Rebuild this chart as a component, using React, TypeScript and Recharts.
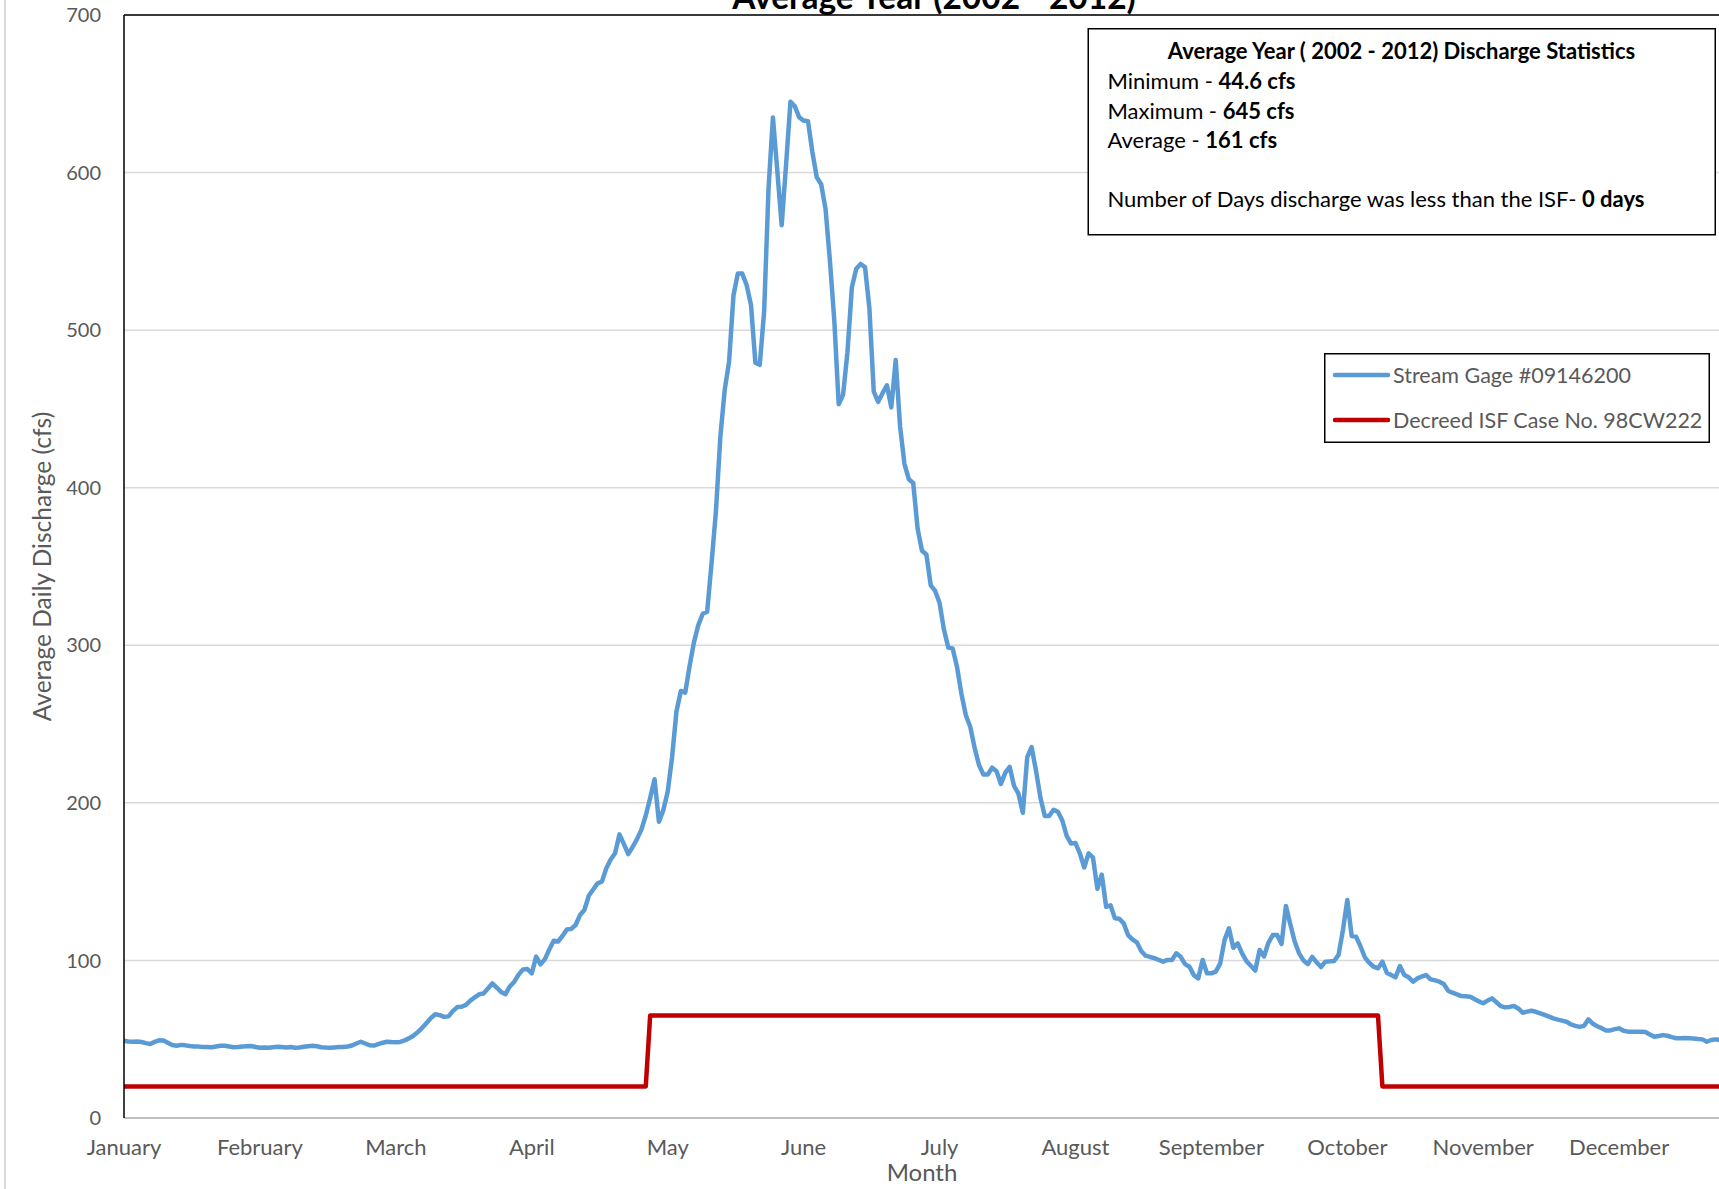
import { LineChart, Line, XAxis, YAxis, CartesianGrid, ReferenceLine, Legend } from "recharts";

const months = [
  "January", "February", "March", "April", "May", "June",
  "July", "August", "September", "October", "November", "December",
];
// Excel labels every 31st day, so the month labels sit at equal spacing
const monthTicks = [0, 31, 62, 93, 124, 155, 186, 217, 248, 279, 310, 341];
const yTicks = [0, 100, 200, 300, 400, 500, 600, 700];

const seriesNames = ["Stream Gage #09146200", "Decreed ISF Case No. 98CW222"];

// average daily discharge (cfs), day 0 = Jan 1
const gageFlow = [
  49, 48.6, 48.4, 48.5, 48.2, 47.5, 47, 48.3, 49.3, 49.2,
  47.8, 46.3, 45.9, 46.4, 46.1, 45.7, 45.4, 45.3, 45.1, 45,
  44.9, 45.4, 45.8, 45.9, 45.4, 44.9, 45.1, 45.4, 45.6, 45.7,
  45.1, 44.6, 44.7, 44.6, 44.9, 45.2, 45, 44.8, 45.1, 44.6,
  44.8, 45.2, 45.5, 45.8, 45.5, 44.9, 44.7, 44.6, 44.8, 45,
  45.1, 45.4, 46, 47.3, 48.4, 47.3, 46.2, 46, 46.9, 47.8,
  48.4, 48.2, 48.1, 48.3, 49.3, 50.5, 52.2, 54.5, 57.2, 60.3,
  63.5, 65.8, 65.3, 64.2, 64.5, 67.8, 70.4, 70.6, 71.8, 74.5,
  76.6, 78.5, 79, 82.2, 85.4, 82.8, 80, 78.6, 83.5, 86.5,
  91, 94.3, 94.5, 91.8, 102.4, 97.5, 100.8, 107, 112.5, 112,
  115.5, 119.7, 120, 122.5, 128.8, 132, 141, 145, 148.9, 150,
  158.5, 164, 168, 180, 174, 167.5, 172, 177, 183, 192,
  203, 215, 188, 195.4, 207, 229, 258, 271, 270, 287,
  302, 313, 320, 321.3, 352, 385, 432, 462, 480, 522,
  536, 536, 528.6, 516, 479.3, 478, 512, 590, 635, 601,
  566.6, 605, 645, 642, 635, 633, 632.6, 613, 597, 592.6,
  577, 544, 506, 453, 459, 486, 527, 539, 542, 540,
  514, 461, 454.5, 460, 465, 451, 481, 439, 415, 405.4,
  403, 374, 360, 357.6, 338, 334.5, 327, 310, 298.5, 298,
  286, 269, 255.6, 248.3, 235, 224, 218, 218, 222.3, 220,
  212, 219.2, 222.8, 210.7, 205.8, 193.7, 229, 235.4, 220.4, 203.4,
  191.7, 191.7, 195.6, 194.3, 188.8, 179, 174.2, 174.5, 168, 159,
  168, 165.2, 145.5, 154.5, 134, 135, 126.7, 126.5, 123.5, 116.1,
  113.4, 111.5, 106, 103, 102.2, 101.5, 100.3, 99.2, 100.3, 100.3,
  104.5, 102.3, 97.7, 96, 90.7, 88.6, 100.3, 91.8, 91.8, 92.9,
  98, 112.9, 120.4, 108, 110.8, 104.5, 99.5, 96.6, 93.6, 106.6,
  102.5, 111.2, 116.1, 116.1, 110.4, 134.5, 123, 112, 104.5, 100,
  97.7, 102.3, 98.8, 95.8, 99.2, 99.4, 99.6, 103.5, 119.3, 138.3,
  115.5, 115, 109, 102, 98.5, 96, 95, 99.2, 92.2, 90.7,
  89.3, 96.4, 90.7, 89.3, 86.5, 88.6, 89.8, 90.7, 88, 87.3,
  86.5, 85, 80.8, 79.5, 78.5, 77.4, 77.2, 77, 75.5, 74,
  72.8, 74.5, 75.9, 73.5, 71, 70.2, 70.5, 71.1, 69.5, 66.8,
  67.5, 68.1, 67.4, 66.4, 65.4, 64.3, 63.2, 62.4, 61.8, 61.1,
  59.4, 58.5, 57.8, 58.5, 62.6, 59.8, 58.2, 57, 55.6, 55.6,
  56.4, 56.9, 55.4, 54.8, 54.8, 54.7, 54.8, 54.6, 53, 51.6,
  52, 52.6, 52.2, 51.3, 50.6, 50.6, 50.8, 50.6, 50.4, 50.1,
  49.9, 48.4, 49.5, 49.9, 49.5,
];

// decreed instream flow: 20 cfs, 65 cfs May 1 - Oct 14
const isfDays = [0, 119, 120, 286, 287, 364];
const isfFlow = [20, 20, 65, 65, 20, 20];

const gageData = gageFlow.map((v, i) => ({ day: i, flow: v }));
const isfData = isfDays.map((d, i) => ({ day: d, flow: isfFlow[i] }));

const GRAY = "#595959";

const renderLegend = (props: any) => {
  const items = [...(props.payload || [])].sort(
    (a: any, b: any) => seriesNames.indexOf(a.value) - seriesNames.indexOf(b.value)
  );
  return (
    <svg width={386} height={90} style={{ display: "block" }}>
      <rect x={0.75} y={0.75} width={384.5} height={88.5} fill="#fff" stroke="#000" strokeWidth={1.5} />
      {items.map((p: any, i: number) => (
        <g key={p.value}>
          <line x1={11} x2={64} y1={22 + 45 * i} y2={22 + 45 * i} stroke={p.color} strokeWidth={4.5} strokeLinecap="round" />
          <text x={69} y={22 + 45 * i} dominantBaseline="central" fontSize={21.5} fill={GRAY}>{p.value}</text>
        </g>
      ))}
    </svg>
  );
};

const yTitle = (props: any) => {
  const vb = props.viewBox;
  const cx = vb.x + 41;
  const cy = vb.y + vb.height / 2;
  return (
    <text x={cx} y={cy} transform={`rotate(-90 ${cx} ${cy})`} textAnchor="middle" dominantBaseline="central" fontSize={24.5} fill={GRAY}>
      Average Daily Discharge (cfs)
    </text>
  );
};

const xTitle = (props: any) => {
  const vb = props.viewBox;
  return (
    <text x={vb.x + vb.width / 2} y={vb.y + 63} textAnchor="middle" fontSize={24} fill={GRAY}>
      Month
    </text>
  );
};

export default function App() {
  return (
    <div
      style={{
        position: "absolute", left: 0, top: 0, width: 1719, height: 1189,
        overflow: "hidden", background: "#fff", fontFamily: "Lato, 'Noto Sans', sans-serif",
      }}
    >
      <div style={{ position: "absolute", left: 3.5, top: 0, height: 1189, borderLeft: "2px solid #d9d9d9" }} />
      <LineChart width={1760} height={1189} margin={{ top: 15, right: 40, bottom: 0, left: 0 }}>
        <CartesianGrid vertical={false} stroke="#d9d9d9" strokeWidth={1.5} />
        <XAxis
          dataKey="day" type="number" domain={[0, 364]} ticks={monthTicks} interval={0}
          tickFormatter={(v: number) => months[monthTicks.indexOf(v)]}
          height={71} axisLine={{ stroke: "#bfbfbf", strokeWidth: 2 }} tickLine={false}
          tickSize={0} tickMargin={21} tick={{ fill: GRAY, fontSize: 22 }} label={xTitle}
        />
        <YAxis
          type="number" domain={[0, 700]} ticks={yTicks} interval={0} width={124}
          axisLine={{ stroke: "#000", strokeWidth: 1.5 }} tickLine={false}
          tickSize={0} tickMargin={23} tick={{ fill: GRAY, fontSize: 20 }} label={yTitle}
        />
        <ReferenceLine y={700} stroke="#000" strokeWidth={1.5} />
        <Legend
          layout="vertical" align="center" verticalAlign="middle"
          wrapperStyle={{ position: "absolute", left: 1324, top: 353, width: 386, height: 90 }}
          content={renderLegend}
        />
        <Line
          data={gageData} dataKey="flow" name={seriesNames[0]} type="linear"
          stroke="#5B9BD5" strokeWidth={4.5} dot={false} strokeLinejoin="round" isAnimationActive={false}
        />
        <Line
          data={isfData} dataKey="flow" name={seriesNames[1]} type="linear"
          stroke="#C00000" strokeWidth={4.5} dot={false} strokeLinejoin="round" isAnimationActive={false}
        />
      </LineChart>
      <svg width={1719} height={1189} style={{ position: "absolute", left: 0, top: 0, pointerEvents: "none" }}>
        <text x={934} y={9} textAnchor="middle" fontSize={33.5} fontWeight={700} fill="#000">
          Average Year (2002 - 2012)
        </text>
        <rect x={1088.25} y={28.75} width={627} height={206} fill="#fff" stroke="#000" strokeWidth={1.5} />
        <text x={1401.5} y={59} textAnchor="middle" fontSize={22} fontWeight={700} fill="#000">
          Average Year ( 2002 - 2012) Discharge Statistics
        </text>
        <text x={1107.5} y={89} fontSize={22} fill="#000">
          Minimum - <tspan fontWeight={700}>44.6 cfs</tspan>
        </text>
        <text x={1107.5} y={118.5} fontSize={22} fill="#000">
          Maximum - <tspan fontWeight={700}>645 cfs</tspan>
        </text>
        <text x={1107.5} y={147.5} fontSize={22} fill="#000">
          Average - <tspan fontWeight={700}>161 cfs</tspan>
        </text>
        <text x={1107.5} y={206.5} fontSize={22} fill="#000">
          Number of Days discharge was less than the ISF- <tspan fontWeight={700}>0 days</tspan>
        </text>
      </svg>
    </div>
  );
}
